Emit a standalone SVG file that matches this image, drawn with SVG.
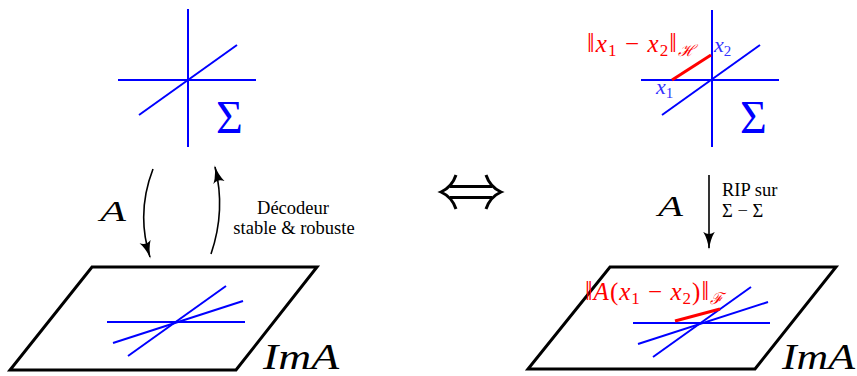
<svg xmlns="http://www.w3.org/2000/svg" width="857" height="376" viewBox="0 0 857 376" font-family="'Liberation Serif', serif">
<defs>
<marker id="ah" viewBox="0 0 20 13" markerWidth="18" markerHeight="12" refX="18" refY="6.5" orient="auto" markerUnits="userSpaceOnUse">
<path d="M0,0 Q8,5 20,6.5 Q8,8 0,13 Q5,6.5 0,0 z" fill="#000"/>
</marker>
<style>
.b{stroke:#0000ff;stroke-width:2;fill:none}
.r{stroke:#ff0000;stroke-width:3;fill:none}
.k{stroke:#000;stroke-width:3;fill:none}
.c{stroke:#000;stroke-width:1.6;fill:none}
.eq{stroke:#000;stroke-width:3;fill:none}
</style>
</defs>
<rect width="857" height="376" fill="#fff"/>

<g id="sigma-left">
<line class="b" x1="188" y1="9" x2="188" y2="147"/>
<line class="b" x1="118" y1="80" x2="256" y2="80"/>
<line class="b" x1="139" y1="115" x2="237" y2="45"/>
<text x="216" y="133" font-family="'Liberation Serif', serif" font-size="46" fill="#0000ff">Σ</text>
</g>

<g id="sigma-right">
<line class="b" x1="712" y1="10" x2="712" y2="147"/>
<line class="b" x1="641" y1="80" x2="779" y2="80"/>
<line class="b" x1="662" y1="115" x2="760" y2="45"/>
<line class="r" x1="672" y1="80" x2="711" y2="55"/>
<text x="740" y="133" font-family="'Liberation Serif', serif" font-size="46" fill="#0000ff">Σ</text>
<text x="587" y="52" font-family="'Liberation Serif', serif" font-size="25" fill="#ff0000" textLength="108" lengthAdjust="spacing"><tspan font-size="27">‖</tspan><tspan font-style="italic">x</tspan><tspan font-size="17" dy="4">1</tspan><tspan dy="-4"> − </tspan><tspan font-style="italic">x</tspan><tspan font-size="17" dy="4">2</tspan><tspan dy="-4" font-size="27">‖</tspan><tspan font-size="16" font-style="italic" dy="4">ℋ</tspan></text>
<text x="714" y="52" font-family="'Liberation Serif', serif" font-style="italic" font-size="22" fill="#3333ff">x<tspan font-size="15" dy="4" font-style="normal">2</tspan></text>
<text x="656" y="94" font-family="'Liberation Serif', serif" font-style="italic" font-size="22" fill="#3333ff">x<tspan font-size="15" dy="4" font-style="normal">1</tspan></text>
</g>

<g id="ima-left">
<polygon class="k" points="92,267 317,267 236,370 10,370"/>
<line class="b" x1="107" y1="322" x2="245" y2="322"/>
<line class="b" x1="113" y1="343" x2="243" y2="301"/>
<line class="b" x1="128" y1="356" x2="226" y2="286"/>
<text x="263" y="369" font-family="'Liberation Serif', serif" font-style="italic" font-size="36" textLength="76" lengthAdjust="spacingAndGlyphs">ImA</text>
</g>

<g id="ima-right">
<polygon class="k" points="610,267 836,267 755,369 528,369"/>
<line class="b" x1="633" y1="323" x2="770" y2="323"/>
<line class="b" x1="638" y1="344" x2="768" y2="302"/>
<line class="b" x1="653" y1="357" x2="751" y2="287"/>
<line class="r" x1="675" y1="321" x2="720" y2="309"/>
<text x="585" y="300" font-family="'Liberation Serif', serif" font-size="25" fill="#ff0000" textLength="138" lengthAdjust="spacing"><tspan font-size="27">‖</tspan><tspan font-style="italic">A</tspan><tspan>(</tspan><tspan font-style="italic">x</tspan><tspan font-size="17" dy="4">1</tspan><tspan dy="-4"> − </tspan><tspan font-style="italic">x</tspan><tspan font-size="17" dy="4">2</tspan><tspan dy="-4">)</tspan><tspan font-size="27">‖</tspan><tspan font-size="16" font-style="italic" dy="4">ℱ</tspan></text>
<text x="782" y="369" font-family="'Liberation Serif', serif" font-style="italic" font-size="36" textLength="73" lengthAdjust="spacingAndGlyphs">ImA</text>
</g>

<g id="connectors">
<path class="c" d="M153,169 Q136,213 150,257" marker-end="url(#ah)"/>
<path class="c" d="M211,254 Q226,210 215,167" marker-end="url(#ah)"/>
<line class="c" x1="709" y1="175" x2="709" y2="248" marker-end="url(#ah)"/>
</g>

<g id="labels">
<text x="100" y="221" font-family="'Liberation Serif', serif" font-style="italic" font-size="30" textLength="26" lengthAdjust="spacingAndGlyphs">A</text>
<text x="293" y="214" font-family="'Liberation Serif', serif" font-size="18.5" text-anchor="middle">Décodeur</text>
<text x="294" y="234" font-family="'Liberation Serif', serif" font-size="18.5" text-anchor="middle">stable &amp; robuste</text>
<text x="658" y="216" font-family="'Liberation Serif', serif" font-style="italic" font-size="30" textLength="25" lengthAdjust="spacingAndGlyphs">A</text>
<text x="722" y="196" font-family="'Liberation Serif', serif" font-size="18.5">RIP sur</text>
<text x="722" y="217" font-family="'Liberation Serif', serif" font-size="18.5">Σ − Σ</text>
</g>

<g id="equiv">
<line class="eq" x1="450" y1="186.5" x2="492" y2="186.5"/>
<line class="eq" x1="450" y1="197.5" x2="492" y2="197.5"/>
<path class="eq" d="M456,175 Q452,187 441,192 Q452,197 456,209"/>
<path class="eq" d="M486,175 Q490,187 501,192 Q490,197 486,209"/>
</g>
</svg>
